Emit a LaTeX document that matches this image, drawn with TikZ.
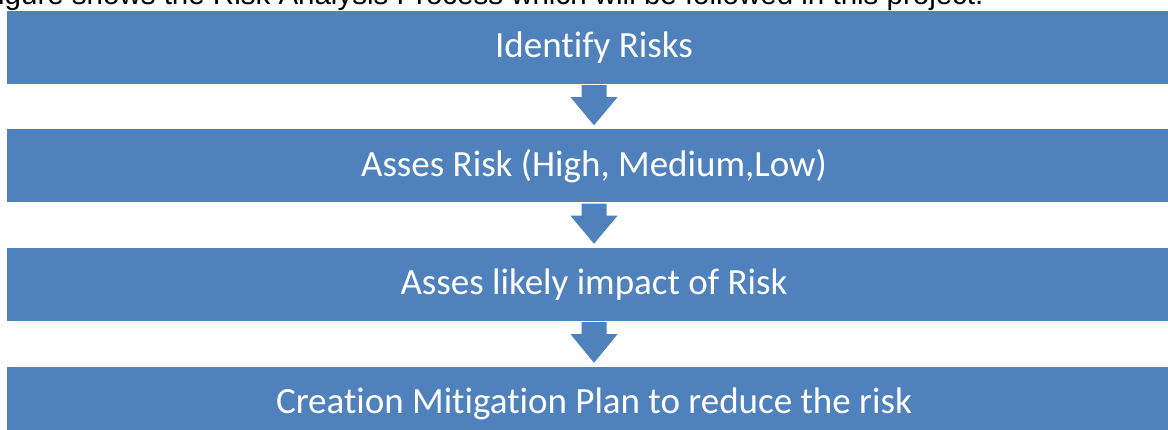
\documentclass[tikz,border=0pt]{standalone}
\usepackage{fontspec}
\setmainfont{Liberation Sans}
\newfontfamily\boxfont[Ligatures=NoCommon]{Carlito}
\usetikzlibrary{calc}
\definecolor{stepblue}{RGB}{79,129,189}
\tikzset{
  x=1pt, y=-1pt,
  stepbox/.style={rectangle, fill=stepblue, draw=none, inner sep=0pt,
    minimum width=1174pt, minimum height=73pt, text=white,
    font=\boxfont\fontsize{37}{44}\selectfont},
  caption/.style={inner sep=0pt, anchor=base west, text=black,
    font=\fontsize{29.5}{35}\selectfont},
  flowarrow/.style={fill=stepblue, draw=none}
}
% block arrow from the bottom of one step to the top of the next
\newcommand{\steparrow}[2]{%
  \fill[flowarrow]
    ($(#1.south)+(-12.5,1)$) -- ($(#1.south)+(12.5,1)$) --
    ($(#1.south)+(12.5,13)$) -- ($(#1.south)+(23.5,13)$) --
    ($(#2.north)+(0,-4)$) --
    ($(#1.south)+(-23.5,13)$) -- ($(#1.south)+(-12.5,13)$) -- cycle;}
\begin{document}
\begin{tikzpicture}
\useasboundingbox (0,0) rectangle (1168,430);
\clip (0,0) rectangle (1168,430);
\node[caption] (cap) at (-2,5) {igure shows the Risk Analysis Process which will be followed in this project.};
\node[stepbox] (s1) at (594,47.5) {Identify Risks};
\node[stepbox] (s2) at (594,166) {Asses Risk (High, Medium,Low)};
\node[stepbox] (s3) at (594,284.5) {Asses likely impact of Risk};
\node[stepbox] (s4) at (594,403.5) {Creation Mitigation Plan to reduce the risk};
\steparrow{s1}{s2}
\steparrow{s2}{s3}
\steparrow{s3}{s4}
\end{tikzpicture}
\end{document}
